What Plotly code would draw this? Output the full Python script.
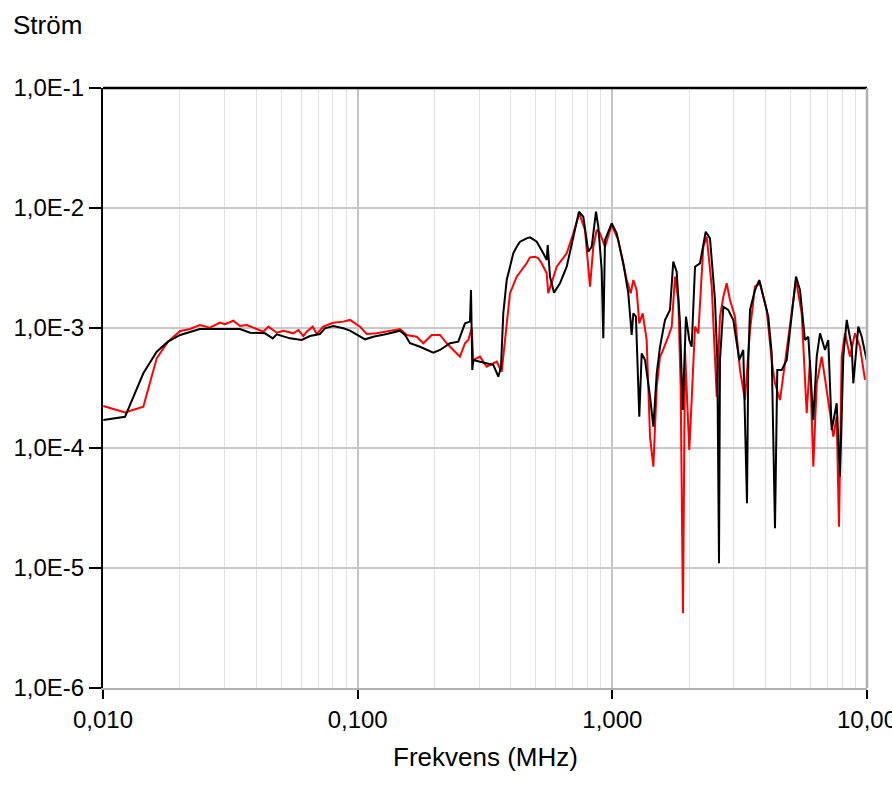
import plotly.graph_objects as go

# Frequency (MHz) and current values
freq_black = [0.01003, 0.0122, 0.0144, 0.01625, 0.0180, 0.0201, 0.0240, 0.0345, 0.0378, 0.0433,
              0.0464, 0.0481, 0.0542, 0.0603, 0.0650, 0.0711, 0.0744, 0.0802, 0.0878, 0.0933,
              0.1069, 0.1152, 0.130, 0.1466, 0.1535, 0.1605, 0.1757, 0.1982, 0.2106, 0.2305,
              0.2484, 0.2562, 0.2639, 0.2761, 0.2786, 0.2819, 0.2845, 0.3022, 0.3409, 0.3567,
              0.3655, 0.3731, 0.3848, 0.3965, 0.4084, 0.4212, 0.4339, 0.4609, 0.4749, 0.4893,
              0.5047, 0.5357, 0.5524, 0.5574, 0.5692, 0.5902, 0.6230, 0.6620, 0.7026, 0.7396,
              0.7691, 0.8046, 0.8299, 0.8627, 0.8809, 0.9083, 0.9216, 0.9358, 0.9943, 1.040,
              1.104, 1.155, 1.191, 1.209, 1.238, 1.276, 1.304, 1.344, 1.406, 1.449,
              1.494, 1.539, 1.610, 1.684, 1.735, 1.789, 1.844, 1.889, 1.946, 2.005,
              2.049, 2.112, 2.209, 2.326, 2.418, 2.530, 2.584, 2.623, 2.647, 2.728,
              2.853, 2.985, 3.151, 3.267, 3.379, 3.419, 3.472, 3.632, 3.776, 3.915,
              4.096, 4.224, 4.352, 4.443, 4.624, 4.839, 5.062, 5.263, 5.457, 5.708,
              5.882, 6.154, 6.347, 6.539, 6.841, 7.047, 7.268, 7.603, 7.834, 8.072,
              8.324, 8.709, 8.836, 9.243, 9.533, 9.97]
curr_black = [1.71e-4, 1.82e-4, 4.19e-4, 6.35e-4, 7.69e-4, 8.75e-4, 9.82e-4, 9.82e-4, 9.14e-4, 9.03e-4,
              8.20e-4, 8.86e-4, 8.20e-4, 7.94e-4, 8.57e-4, 8.91e-4, 9.94e-4, 1.04e-3, 9.94e-4, 9.50e-4,
              8.05e-4, 8.46e-4, 8.91e-4, 9.50e-4, 8.75e-4, 7.46e-4, 6.98e-4, 6.22e-4, 6.56e-4, 7.46e-4,
              7.69e-4, 9.31e-4, 1.094e-3, 1.13e-3, 2.07e-3, 4.47e-4, 5.41e-4, 5.24e-4, 4.92e-4, 3.93e-4,
              4.76e-4, 1.326e-3, 2.51e-3, 3.24e-3, 4.19e-3, 4.76e-3, 5.24e-3, 5.59e-3, 5.70e-3, 5.48e-3,
              5.24e-3, 4.19e-3, 3.69e-3, 4.92e-3, 2.68e-3, 1.97e-3, 2.36e-3, 3.24e-3, 5.59e-3, 9.31e-3,
              8.46e-3, 4.32e-3, 4.76e-3, 9.31e-3, 6.98e-3, 3.04e-3, 8.20e-4, 5.41e-3, 7.46e-3, 6.15e-3,
              3.46e-3, 1.95e-3, 8.75e-4, 1.326e-3, 1.242e-3, 1.82e-4, 6.15e-4, 5.41e-4, 2.68e-4, 1.505e-4,
              4.19e-4, 6.98e-4, 1.167e-3, 1.413e-3, 3.57e-3, 2.94e-3, 1.094e-3, 2.07e-4, 1.242e-3, 7.94e-4,
              6.98e-4, 3.24e-3, 3.46e-3, 6.35e-3, 5.59e-3, 1.71e-3, 5.41e-4, 1.094e-5, 5.41e-4, 1.505e-3,
              1.413e-3, 1.167e-3, 5.41e-4, 6.56e-4, 3.46e-5, 5.41e-4, 1.413e-3, 2.07e-3, 2.51e-3, 1.82e-3,
              1.242e-3, 6.15e-4, 2.14e-5, 4.47e-4, 4.47e-4, 5.41e-4, 1.242e-3, 2.68e-3, 2.07e-3, 7.94e-4,
              8.46e-4, 1.71e-4, 5.77e-4, 9.03e-4, 6.56e-4, 7.94e-4, 1.413e-4, 2.36e-4, 5.77e-5, 5.77e-4,
              1.167e-3, 6.98e-4, 3.46e-4, 1.026e-3, 8.46e-4, 5.41e-4]

freq_red = [0.01003, 0.0122, 0.0144, 0.01625, 0.0180, 0.0201, 0.02196, 0.0240, 0.0263, 0.0288,
            0.0301, 0.0325, 0.0345, 0.0367, 0.0426, 0.0446, 0.0481, 0.0511, 0.0559, 0.0585,
            0.0612, 0.0631, 0.0666, 0.0691, 0.0733, 0.0802, 0.0878, 0.0933, 0.1021, 0.1085,
            0.1188, 0.130, 0.1466, 0.1558, 0.1705, 0.1810, 0.1953, 0.2106, 0.2237, 0.2374,
            0.2522, 0.2639, 0.2719, 0.2804, 0.2845, 0.3022, 0.3211, 0.3515, 0.3679, 0.3790,
            0.3965, 0.4212, 0.4609, 0.4749, 0.4968, 0.5119, 0.5278, 0.5524, 0.5604, 0.6047,
            0.6620, 0.7026, 0.7418, 0.7808, 0.8172, 0.8419, 0.8681, 0.8945, 0.9358, 0.9943,
            1.055, 1.139, 1.181, 1.209, 1.246, 1.276, 1.316, 1.364, 1.406, 1.449,
            1.494, 1.539, 1.563, 1.658, 1.711, 1.762, 1.816, 1.855, 1.894, 1.929,
            2.005, 2.049, 2.112, 2.176, 2.276, 2.348, 2.456, 2.570, 2.647, 2.728,
            2.812, 2.897, 3.031, 3.171, 3.318, 3.472, 3.632, 3.800, 4.037, 4.224,
            4.352, 4.554, 4.764, 4.984, 5.263, 5.540, 5.797, 5.972, 6.154, 6.347,
            6.641, 6.947, 7.374, 7.603, 7.762, 7.954, 8.196, 8.575, 8.971, 9.386,
            9.82]
curr_red = [2.24e-4, 1.98e-4, 2.21e-4, 5.59e-4, 7.69e-4, 9.44e-4, 9.82e-4, 1.06e-3, 1.006e-3, 1.107e-3,
            1.074e-3, 1.15e-3, 1.04e-3, 1.06e-3, 9.31e-4, 1.026e-3, 9.14e-4, 9.50e-4, 9.03e-4, 9.62e-4,
            8.57e-4, 9.31e-4, 1.026e-3, 8.91e-4, 1.026e-3, 1.107e-3, 1.13e-3, 1.167e-3, 1.026e-3, 8.91e-4,
            9.03e-4, 9.31e-4, 9.82e-4, 8.75e-4, 8.46e-4, 7.46e-4, 8.75e-4, 8.75e-4, 7.46e-4, 6.56e-4,
            5.77e-4, 7.46e-4, 7.94e-4, 9.94e-4, 5.41e-4, 5.77e-4, 4.76e-4, 5.24e-4, 4.32e-4, 7.94e-4,
            1.95e-3, 2.68e-3, 3.46e-3, 3.88e-3, 3.93e-3, 3.81e-3, 3.46e-3, 2.86e-3, 1.95e-3, 3.24e-3,
            4.19e-3, 6.15e-3, 9.03e-3, 6.56e-3, 2.21e-3, 4.76e-3, 6.56e-3, 6.15e-3, 4.76e-3, 7.22e-3,
            5.41e-3, 2.51e-3, 1.95e-3, 2.51e-3, 2.07e-3, 1.094e-3, 1.326e-3, 7.94e-4, 1.242e-4, 6.98e-5,
            3.24e-4, 5.77e-4, 6.15e-4, 8.46e-4, 1.026e-3, 2.68e-3, 1.71e-3, 3.24e-4, 4.19e-6, 6.56e-4,
            9.62e-5, 2.51e-4, 1.026e-3, 9.03e-4, 4.76e-3, 5.77e-3, 2.21e-3, 2.68e-4, 1.242e-3, 1.82e-3,
            2.36e-3, 1.71e-3, 1.242e-3, 4.47e-4, 2.51e-4, 9.62e-4, 2.21e-3, 2.36e-3, 1.413e-3, 5.41e-4,
            3.46e-4, 2.51e-4, 5.08e-4, 1.026e-3, 2.51e-3, 1.326e-3, 1.95e-4, 5.41e-4, 6.98e-5, 3.46e-4,
            5.77e-4, 3.04e-4, 1.242e-4, 1.82e-4, 2.21e-5, 5.77e-4, 9.03e-4, 5.77e-4, 9.03e-4, 6.98e-4,
            3.69e-4]

x_tickvals = [0.01, 0.1, 1, 10]
x_ticktext = ["0,010", "0,100", "1,000", "10,00"]
y_tickvals = [1e-6, 1e-5, 1e-4, 1e-3, 1e-2, 1e-1]
y_ticktext = ["1,0E-6", "1,0E-5", "1,0E-4", "1,0E-3", "1,0E-2", "1,0E-1"]
minor_x = [m * d for d in (0.01, 0.1, 1) for m in range(2, 10)]

FONT = "Liberation Sans, Arial, sans-serif"

fig = go.Figure()
fig.add_trace(go.Scatter(x=freq_red, y=curr_red, mode="lines",
                         line=dict(color="#ff0000", width=2), showlegend=False))
fig.add_trace(go.Scatter(x=freq_black, y=curr_black, mode="lines",
                         line=dict(color="#000000", width=2), showlegend=False))

fig.update_layout(
    width=892, height=803,
    margin=dict(l=103, r=25, t=88, b=115),
    paper_bgcolor="white", plot_bgcolor="white",
    font=dict(family=FONT, size=24, color="black"),
    xaxis=dict(type="log", range=[-2, 1], tickvals=x_tickvals, ticktext=x_ticktext,
               ticklabeloverflow="allow", automargin=False,
               showgrid=True, gridcolor="#c4c4c4", gridwidth=1.5,
               ticks="outside", ticklen=9, tickcolor="black", tickwidth=2,
               showline=True, linecolor="#b0b0b0", linewidth=2,
               zeroline=False,
               minor=dict(tickvals=minor_x, showgrid=True, gridcolor="#e2e2e2",
                          gridwidth=1.2, ticks="")),
    yaxis=dict(type="log", range=[-6, -1], tickvals=y_tickvals, ticktext=y_ticktext,
               automargin=False,
               showgrid=True, gridcolor="#c8c8c8", gridwidth=1.5,
               ticks="outside", ticklen=12, tickcolor="black", tickwidth=2,
               showline=True, linecolor="black", linewidth=2, zeroline=False),
    shapes=[
        dict(type="line", xref="paper", yref="paper", x0=0, x1=1, y0=1, y1=1,
             line=dict(color="black", width=2.5)),
        dict(type="line", xref="paper", yref="paper", x0=1, x1=1, y0=0, y1=1,
             line=dict(color="#b0b0b0", width=2.5)),
    ],
    annotations=[
        dict(text="Ström", xref="paper", yref="paper", x=-92 / 764, y=1 + 63 / 600,
             xanchor="left", yanchor="middle", showarrow=False,
             font=dict(family=FONT, size=26, color="black")),
        dict(text="Frekvens (MHz)", xref="paper", yref="paper", x=0.5, y=-69 / 600,
             xanchor="center", yanchor="middle", showarrow=False,
             font=dict(family=FONT, size=26, color="black")),
    ],
)

fig.write_html("out.html")
